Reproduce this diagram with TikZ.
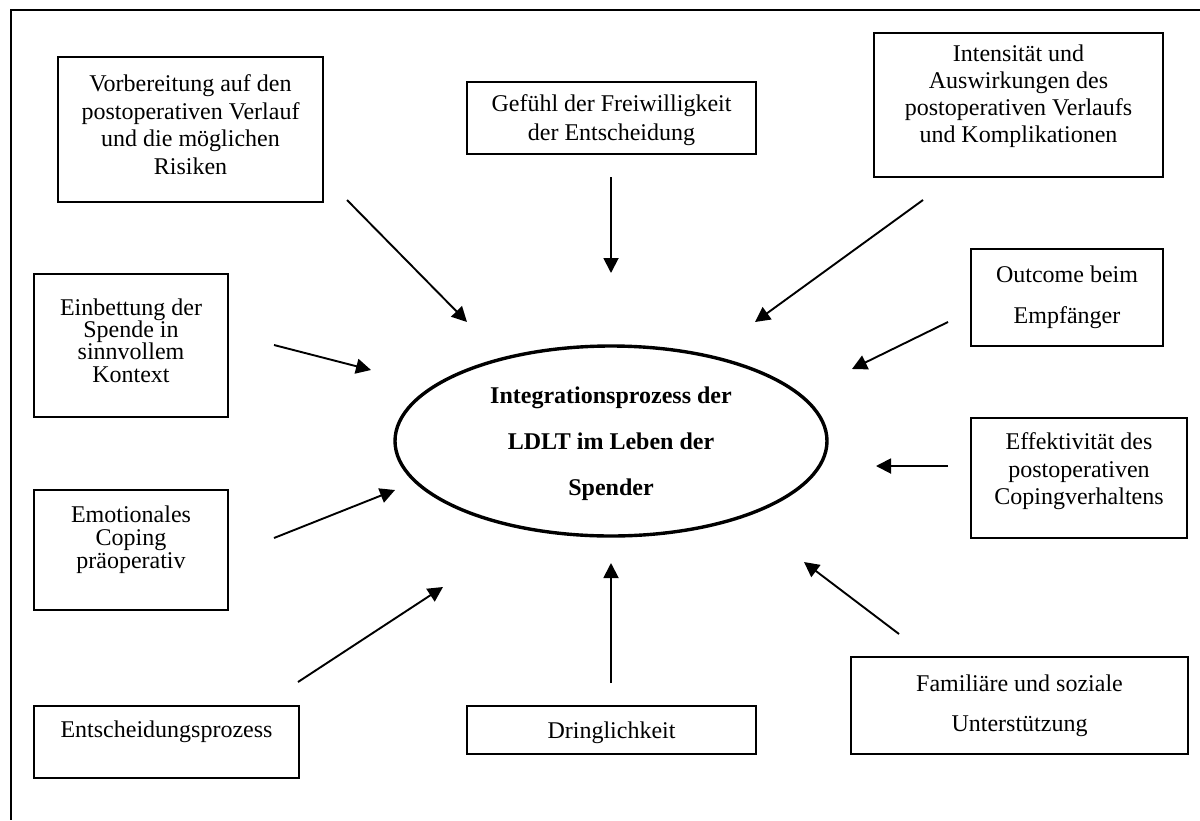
\documentclass[tikz,border=0pt]{standalone}
\usepackage{fontspec}
\setmainfont{Liberation Serif}
\usetikzlibrary{shapes.geometric, arrows.meta}

\begin{document}
\begin{tikzpicture}[x=1pt, y=-1pt,
            faktor/.style={draw=black, line width=2.4pt, inner sep=0pt, align=center, font=\fontsize{24pt}{27.5pt}\selectfont},
            pfeil/.style={line width=1.9pt, -{Triangle[length=15pt, width=15pt]}}]
            \useasboundingbox (0,0) rectangle (1200,820);
            \draw[line width=2.6pt] (1200,10) -- (11,10) -- (11,820);

            \node[ellipse, draw=black, line width=3.4pt, minimum width=432pt, minimum height=190pt, inner sep=0pt, align=center, text depth=-15pt, font=\bfseries\fontsize{24pt}{46pt}\selectfont] (kern) at (611,441) {Integrationsprozess der\\LDLT im Leben der\\Spender};

            \node[faktor, minimum width=265pt, minimum height=145pt, text depth=10pt] (vorb) at (190.5,129.5) {Vorbereitung auf den\\postoperativen Verlauf\\und die möglichen\\Risiken};
            \node[faktor, minimum width=289pt, minimum height=72pt, text depth=-11pt, font=\fontsize{24pt}{29pt}\selectfont] (gef) at (611.5,118) {Gefühl der Freiwilligkeit\\der Entscheidung};
            \node[faktor, minimum width=289pt, minimum height=144pt, text depth=22pt, font=\fontsize{24pt}{27pt}\selectfont] (intens) at (1018.5,105) {Intensität und\\Auswirkungen des\\postoperativen Verlaufs\\und Komplikationen};
            \node[faktor, minimum width=192pt, minimum height=97pt, font=\fontsize{24pt}{41pt}\selectfont] (outc) at (1067,297.5) {Outcome beim\\Empfänger};
            \node[faktor, minimum width=194pt, minimum height=143pt, text depth=10pt, font=\fontsize{24pt}{22.3pt}\selectfont] (einb) at (131,345.5) {Einbettung der\\Spende in\\sinnvollem\\Kontext};
            \node[faktor, minimum width=216pt, minimum height=120pt, text depth=18pt] (effekt) at (1079,478) {Effektivität des\\postoperativen\\Copingverhaltens};
            \node[faktor, minimum width=194pt, minimum height=120pt, text depth=25pt, font=\fontsize{24pt}{23pt}\selectfont] (emot) at (131,550) {Emotionales\\Coping\\präoperativ};
            \node[faktor, minimum width=265pt, minimum height=72pt, text depth=25pt] (entsch) at (166.5,742) {Entscheidungsprozess};
            \node[faktor, minimum width=289pt, minimum height=48pt, text depth=-2pt] (dring) at (611.5,730) {Dringlichkeit};
            \node[faktor, minimum width=337pt, minimum height=97pt, font=\fontsize{24pt}{40pt}\selectfont] (famil) at (1019.5,705.5) {Familiäre und soziale\\Unterstützung};

            \coordinate (vorb-a) at (347,200);   \coordinate (vorb-b) at (467,322);
            \coordinate (gef-a) at (611,177);    \coordinate (gef-b) at (611,273);
            \coordinate (intens-a) at (923,200); \coordinate (intens-b) at (755,322);
            \coordinate (outc-a) at (948,322);   \coordinate (outc-b) at (852,369);
            \coordinate (einb-a) at (274,345);   \coordinate (einb-b) at (371,370);
            \coordinate (effekt-a) at (948,466); \coordinate (effekt-b) at (876,466);
            \coordinate (emot-a) at (274,538);   \coordinate (emot-b) at (395,490);
            \coordinate (entsch-a) at (298,682); \coordinate (entsch-b) at (443,587);
            \coordinate (dring-a) at (611,683);  \coordinate (dring-b) at (611,563);
            \coordinate (famil-a) at (899,634);  \coordinate (famil-b) at (804,562);

            \foreach \f in {vorb, gef, intens, outc, einb, effekt, emot, entsch, dring, famil}
                \draw[pfeil] (\f-a) -- (\f-b);
        \end{tikzpicture}
\end{document}
